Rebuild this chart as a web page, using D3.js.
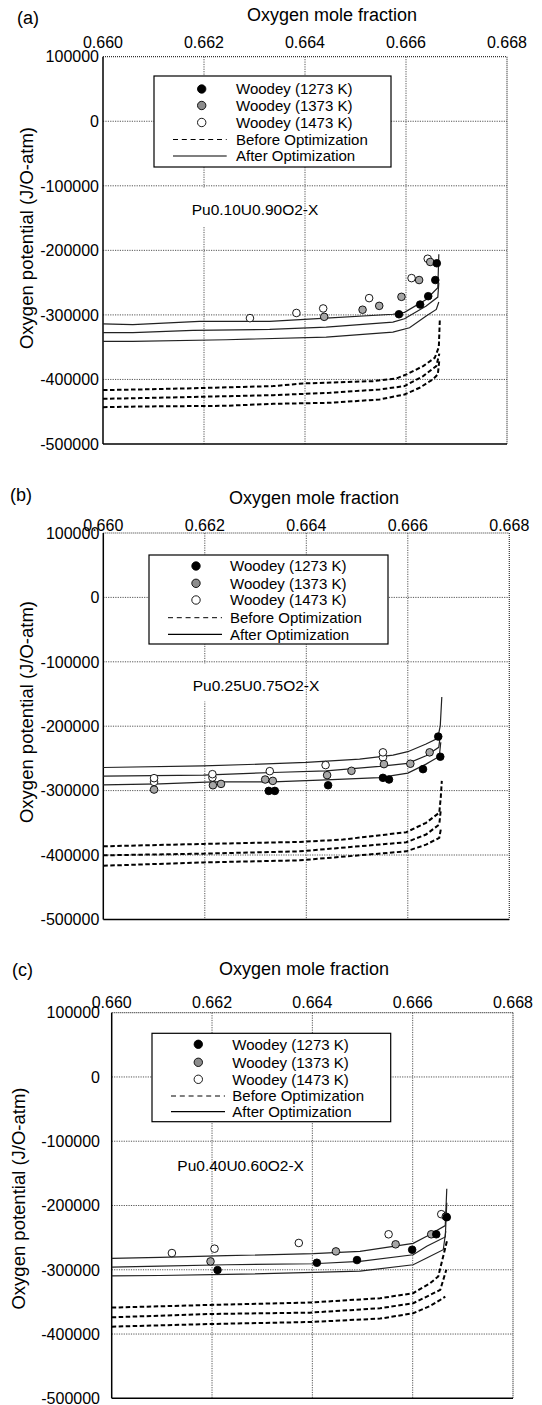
<!DOCTYPE html>
<html><head><meta charset="utf-8">
<script src="https://cdn.jsdelivr.net/npm/d3@7"></script>
<style>
body{margin:0;background:#fff}
svg{display:block}
text{font-family:"Liberation Sans",Arial,Helvetica,sans-serif;fill:#000}
</style>
</head><body>
<svg id="chart" width="542" height="1405"></svg>
<script>
// ---------- shared labels / ticks ----------
const xTicks = [0.660, 0.662, 0.664, 0.666, 0.668];
const yTicks = [100000, 0, -100000, -200000, -300000, -400000, -500000];
const legendLabels = ["Woodey (1273 K)", "Woodey (1373 K)", "Woodey (1473 K)", "Before Optimization", "After Optimization"];
const panelLetters = ["(a)", "(b)", "(c)"];
const compounds = ["Pu0.10U0.90O2-X", "Pu0.25U0.75O2-X", "Pu0.40U0.60O2-X"];
const xTitle = "Oxygen mole fraction";
const yTitle = "Oxygen potential (J/O-atm)";

// ---------- panel (a) ----------
const a1273 = [[0.66586,-299000],[0.66628,-284000],[0.66644,-271000],[0.66658,-246000],[0.66661,-220000]];
const a1373 = [[0.66438,-303000],[0.66514,-292000],[0.66547,-286000],[0.66591,-272000],[0.66626,-246000],[0.66648,-218000]];
const a1473 = [[0.66291,-305000],[0.66383,-297000],[0.66436,-290000],[0.66527,-274000],[0.66611,-243000],[0.66643,-213000]];
const aAfter1 = [[0.660,-314000],[0.66059,-315000],[0.66191,-310000],[0.66330,-310000],[0.66442,-305000],[0.66574,-299000],[0.66597,-296000],[0.66640,-276000],[0.66663,-258000],[0.66665,-206000]];
const aAfter2 = [[0.660,-327600],[0.66059,-327600],[0.66178,-324000],[0.66330,-322500],[0.66442,-318900],[0.66574,-311100],[0.66597,-305900],[0.66640,-286300],[0.66663,-272400],[0.66665,-250000]];
const aAfter3 = [[0.660,-341000],[0.66059,-341000],[0.66244,-338500],[0.66442,-334400],[0.66574,-326600],[0.66607,-320000],[0.66640,-301800],[0.66660,-291500],[0.66665,-280000]];
const aBefore1 = [[0.660,-416500],[0.66073,-415500],[0.66191,-413400],[0.66337,-410300],[0.66396,-406200],[0.66535,-402600],[0.66581,-398400],[0.66601,-392200],[0.66634,-379300],[0.66657,-366400],[0.66665,-350000],[0.66667,-307000]];
const aBefore2 = [[0.660,-430000],[0.66073,-428900],[0.66191,-426900],[0.66337,-424300],[0.66449,-420700],[0.66548,-415500],[0.66597,-410300],[0.66634,-394800],[0.66660,-379300],[0.66666,-360000]];
const aBefore3 = [[0.660,-442900],[0.66073,-441900],[0.66244,-440800],[0.66337,-437700],[0.66449,-436200],[0.66548,-431000],[0.66597,-423300],[0.66627,-412900],[0.66653,-400000],[0.66663,-392200],[0.66666,-370000]];

// ---------- panel (b) ----------
const b1273 = [[0.66326,-300500],[0.66338,-300500],[0.66443,-291700],[0.66551,-280200],[0.66563,-282800],[0.66630,-266700],[0.66660,-216100],[0.66664,-247400]];
const b1373 = [[0.66100,-298400],[0.66216,-291700],[0.66232,-289600],[0.66319,-282800],[0.66334,-284900],[0.66441,-276000],[0.66489,-269300],[0.66553,-258900],[0.66605,-258300],[0.66643,-240600]];
const b1473 = [[0.66100,-286500],[0.66100,-280700],[0.66215,-279700],[0.66215,-274500],[0.66328,-269800],[0.66438,-260400],[0.66551,-248400],[0.66551,-240600]];
const bAfter1 = [[0.660,-264100],[0.66197,-261500],[0.66308,-258900],[0.66400,-256300],[0.66505,-251000],[0.66571,-244800],[0.66600,-239600],[0.66636,-227600],[0.66659,-218800],[0.66664,-199000],[0.66667,-154700]];
const bAfter2 = [[0.660,-277600],[0.66197,-276000],[0.66334,-271900],[0.66439,-269300],[0.66544,-262500],[0.66600,-257800],[0.66636,-245800],[0.66661,-232800],[0.66664,-215000]];
const bAfter3 = [[0.660,-291100],[0.66112,-289600],[0.66216,-286500],[0.66334,-286500],[0.66439,-283300],[0.66544,-279700],[0.66600,-272900],[0.66636,-258900],[0.66662,-246900],[0.66665,-225000]];
const bBefore1 = [[0.660,-386500],[0.66197,-382800],[0.66387,-379700],[0.66472,-376000],[0.66597,-364600],[0.66636,-350000],[0.66662,-334400],[0.66665,-310000],[0.66667,-284900]];
const bBefore2 = [[0.660,-400500],[0.66197,-397900],[0.66387,-394300],[0.66597,-380200],[0.66636,-368200],[0.66662,-352600],[0.66665,-330000]];
const bBefore3 = [[0.660,-416700],[0.66197,-411500],[0.66387,-408300],[0.66597,-394300],[0.66636,-383900],[0.66662,-373400],[0.66665,-360400]];

// ---------- panel (c) ----------
const c1273 = [[0.66211,-300500],[0.66409,-289100],[0.66489,-284900],[0.66599,-268800],[0.66647,-244800],[0.66668,-218200]];
const c1373 = [[0.66197,-287000],[0.66447,-271400],[0.66566,-260400],[0.66637,-244800],[0.66666,-217200]];
const c1473 = [[0.66120,-274000],[0.66205,-267200],[0.66373,-258300],[0.66552,-244800],[0.66657,-213500]];
const cAfter1 = [[0.660,-282300],[0.66096,-280700],[0.66229,-278100],[0.66402,-275000],[0.66495,-271400],[0.66601,-258900],[0.66628,-247900],[0.66665,-231200],[0.66668,-174000]];
const cAfter2 = [[0.660,-295800],[0.66096,-294300],[0.66229,-292200],[0.66402,-290600],[0.66495,-287000],[0.66601,-276600],[0.66628,-263500],[0.66665,-249000],[0.66668,-195800]];
const cAfter3 = [[0.660,-309400],[0.66096,-308900],[0.66229,-307300],[0.66402,-304200],[0.66495,-302100],[0.66601,-292200],[0.66628,-281800],[0.66661,-268800],[0.66666,-240000]];
const cBefore1 = [[0.660,-358900],[0.66196,-354700],[0.66395,-351000],[0.66535,-344300],[0.66601,-336500],[0.66635,-320800],[0.66651,-310400],[0.66669,-253100]];
const cBefore2 = [[0.660,-374000],[0.66196,-368800],[0.66395,-366700],[0.66535,-359900],[0.66601,-352100],[0.66635,-339100],[0.66655,-331300],[0.66667,-300000]];
const cBefore3 = [[0.660,-388500],[0.66196,-384400],[0.66395,-381300],[0.66535,-376000],[0.66601,-367700],[0.66635,-356300],[0.66655,-346900],[0.66665,-341700]];

// ---------- layout (positions only) ----------
const panels = [
  {l:103, r:507, t:56.7, b:444, tickBase:48, titleBase:21, titleX:332, letterX:17, letterBase:24,
   yTitleX:26, yTitleY:238, yLabR:99, leg:{x:154,y:76,w:237,h:91,rows:[89,105.5,122.5,139.5,156],mx:201.7,tx:236,lx0:173,lx1:226.7},
   comp:{x:191.7,base:215, box:{x:150,y:188,w:130,h:38}},
   pts:[a1273,a1373,a1473], after:[aAfter1,aAfter2,aAfter3], before:[aBefore1,aBefore2,aBefore3]},
  {l:103.3, r:509.3, t:533, b:919.4, tickBase:531, titleBase:504, titleX:314, letterX:10, letterBase:501,
   yTitleX:26.5, yTitleY:712, yLabR:99.3, leg:{x:149,y:555,w:239,h:89,rows:[566,583.3,600,617.7,634.3],mx:196,tx:230,lx0:168,lx1:222},
   comp:{x:192.7,base:691, box:{x:150,y:663.5,w:130,h:38}},
   pts:[b1273,b1373,b1473], after:[bAfter1,bAfter2,bAfter3], before:[bBefore1,bBefore2,bBefore3]},
  {l:111.7, r:513, t:1012.7, b:1398.3, tickBase:1008, titleBase:975, titleX:304, letterX:12, letterBase:976,
   yTitleX:18.5, yTitleY:1198.5, yLabR:100, leg:{x:152,y:1033.3,w:238.7,h:88.4,rows:[1044.3,1062.3,1079.3,1096,1111.7],mx:198.3,tx:232.3,lx0:171,lx1:225},
   comp:{x:177.3,base:1170.7, box:null},
   pts:[c1273,c1373,c1473], after:[cAfter1,cAfter2,cAfter3], before:[cBefore1,cBefore2,cBefore3]}
];
const fills = ["#000000", "#a6a6a6", "#ffffff"];

const svg = d3.select("#chart");
svg.append("rect").attr("width",542).attr("height",1405).attr("fill","#fff");

panels.forEach((p, i) => {
  const x = d3.scaleLinear().domain([0.660, 0.668]).range([p.l, p.r]);
  const y = d3.scaleLinear().domain([-500000, 100000]).range([p.b, p.t]);
  const g = svg.append("g");

  // gridlines
  g.append("g").selectAll("line").data(yTicks.slice(1, -1)).join("line")
    .attr("x1", p.l).attr("x2", p.r).attr("y1", d => y(d)).attr("y2", d => y(d))
    .attr("stroke", "#555").attr("stroke-width", 1).attr("stroke-dasharray", "1.2,1.2");
  g.append("g").selectAll("line").data(xTicks.slice(1, -1)).join("line")
    .attr("y1", p.t).attr("y2", p.b).attr("x1", d => x(d)).attr("x2", d => x(d))
    .attr("stroke", "#555").attr("stroke-width", 1).attr("stroke-dasharray", "1.2,1.2");

  // white text box behind the compound label (hides part of a gridline)
  if (p.comp.box) {
    g.append("rect").attr("x", p.comp.box.x).attr("y", p.comp.box.y)
      .attr("width", p.comp.box.w).attr("height", p.comp.box.h).attr("fill", "#fff");
  }

  // top & right frame (dotted), left & bottom solid
  g.append("line").attr("x1", p.l).attr("x2", p.r).attr("y1", p.t).attr("y2", p.t)
    .attr("stroke", "#333").attr("stroke-width", 1.2).attr("stroke-dasharray", "1,1");
  g.append("line").attr("x1", p.r).attr("x2", p.r).attr("y1", p.t).attr("y2", p.b)
    .attr("stroke", "#333").attr("stroke-width", 1.2).attr("stroke-dasharray", "1,1");
  g.append("line").attr("x1", p.l).attr("x2", p.l).attr("y1", p.t).attr("y2", p.b)
    .attr("stroke", "#000").attr("stroke-width", 1.5);
  g.append("line").attr("x1", p.l).attr("x2", p.r).attr("y1", p.b).attr("y2", p.b)
    .attr("stroke", "#000").attr("stroke-width", 1.5);

  // tick labels
  g.append("g").selectAll("text").data(xTicks).join("text")
    .attr("x", d => x(d)).attr("y", p.tickBase).attr("text-anchor", "middle")
    .attr("font-size", 16).text(d => d3.format(".3f")(d));
  g.append("g").selectAll("text").data(yTicks).join("text")
    .attr("x", p.yLabR).attr("y", d => y(d)).attr("dy", "0.36em").attr("text-anchor", "end")
    .attr("font-size", 16).text(d => d);

  // titles
  g.append("text").attr("x", p.titleX).attr("y", p.titleBase).attr("text-anchor", "middle")
    .attr("font-size", 18).text(xTitle);
  g.append("text").attr("transform", `translate(${p.yTitleX},${p.yTitleY}) rotate(-90)`)
    .attr("text-anchor", "middle").attr("dy", "0.36em").attr("font-size", 18.5).text(yTitle);
  g.append("text").attr("x", p.letterX).attr("y", p.letterBase).attr("font-size", 18).text(panelLetters[i]);

  // compound label
  g.append("text").attr("x", p.comp.x).attr("y", p.comp.base).attr("font-size", 15.5).text(compounds[i]);

  // curves
  const line = d3.line().x(d => x(d[0])).y(d => y(d[1]));
  p.before.forEach(c => g.append("path").attr("d", line(c)).attr("fill", "none")
    .attr("stroke", "#000").attr("stroke-width", 2).attr("stroke-dasharray", "4.5,2.5"));
  p.after.forEach(c => g.append("path").attr("d", line(c)).attr("fill", "none")
    .attr("stroke", "#222").attr("stroke-width", 1.2));

  // points (draw 1473 first, then 1373, then 1273)
  [2, 1, 0].forEach(k => {
    g.append("g").selectAll("circle").data(p.pts[k]).join("circle")
      .attr("cx", d => x(d[0])).attr("cy", d => y(d[1])).attr("r", 3.8)
      .attr("fill", fills[k]).attr("stroke", "#000").attr("stroke-width", 0.9);
  });

  // legend
  const L = p.leg;
  g.append("rect").attr("x", L.x).attr("y", L.y).attr("width", L.w).attr("height", L.h)
    .attr("fill", "#fff").attr("stroke", "#000").attr("stroke-width", 1.2);
  [0, 1, 2].forEach(k => {
    g.append("circle").attr("cx", L.mx).attr("cy", L.rows[k]).attr("r", 4.2)
      .attr("fill", k === 1 ? "#8c8c8c" : fills[k]).attr("stroke", "#000").attr("stroke-width", 0.9);
  });
  g.append("line").attr("x1", L.lx0).attr("x2", L.lx1).attr("y1", L.rows[3]).attr("y2", L.rows[3])
    .attr("stroke", "#000").attr("stroke-width", 1).attr("stroke-dasharray", "5,3.8");
  g.append("line").attr("x1", L.lx0).attr("x2", L.lx1).attr("y1", L.rows[4]).attr("y2", L.rows[4])
    .attr("stroke", "#000").attr("stroke-width", 1.2);
  g.append("g").selectAll("text").data(legendLabels).join("text")
    .attr("x", L.tx).attr("y", (d, k) => L.rows[k]).attr("dy", "0.36em")
    .attr("font-size", 15).text(d => d);
});
</script>
</body></html>
